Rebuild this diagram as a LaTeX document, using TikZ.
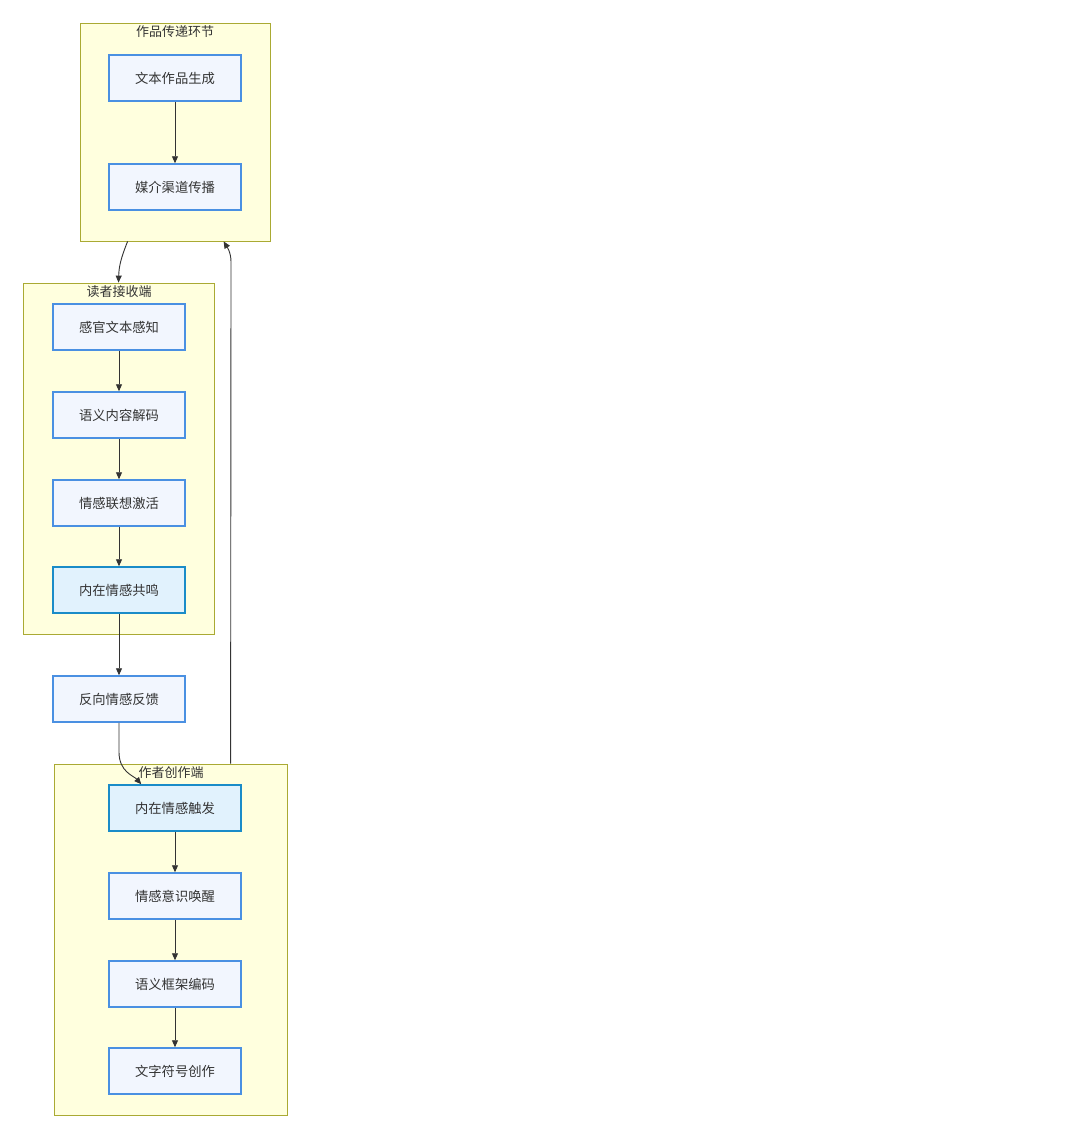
\documentclass[tikz,border=0pt]{standalone}
\usepackage{fontspec}
\setmainfont{Noto Sans CJK SC}
\usetikzlibrary{arrows.meta,calc}
\definecolor{clfill}{HTML}{FFFFDE}
\definecolor{cldraw}{HTML}{AAAA33}
\definecolor{ndfill}{HTML}{F2F6FE}
\definecolor{nddraw}{HTML}{4A90E2}
\definecolor{hifill}{HTML}{E1F2FD}
\definecolor{hidraw}{HTML}{1A8CC8}
\definecolor{txt}{HTML}{333333}
\definecolor{edge}{HTML}{333333}
\tikzset{
  cluster/.style={draw=cldraw,fill=clfill,line width=0.8pt,inner sep=0pt},
  cltitle/.style={text=txt,font=\fontsize{13}{15}\selectfont,inner sep=0pt},
  proc/.style={draw=nddraw,fill=ndfill,line width=1.5pt,minimum width=132pt,minimum height=46pt,inner sep=0pt,text=txt,font=\fontsize{13.3}{15}\selectfont},
  hiproc/.style={proc,draw=hidraw,fill=hifill},
  arr/.style={draw=edge,line width=0.9pt,-{Triangle[length=7pt,width=6pt]}}
}
\begin{document}
\begin{tikzpicture}[x=1pt,y=-1pt]
\useasboundingbox[fill=white] (0,0) rectangle (1080,1143);
% clusters
\node[cluster,minimum width=190pt,minimum height=218pt] (c1) at (175,132) {};
\node[cltitle] (t1) at (175,32) {作品传递环节};
\node[cluster,minimum width=191pt,minimum height=351pt] (c2) at (118.5,458.5) {};
\node[cltitle] (t2) at (119,292) {读者接收端};
\node[cluster,minimum width=233pt,minimum height=351pt] (c3) at (170.5,939.5) {};
\node[cltitle] (t3) at (171,773) {作者创作端};
% nodes
\node[proc] (a1) at (175,78) {文本作品生成};
\node[proc] (a2) at (175,187) {媒介渠道传播};
\node[proc] (b1) at (119,327) {感官文本感知};
\node[proc] (b2) at (119,415) {语义内容解码};
\node[proc] (b3) at (119,503) {情感联想激活};
\node[hiproc] (b4) at (119,590) {内在情感共鸣};
\node[proc] (f) at (119,699) {反向情感反馈};
\node[hiproc] (d1) at (175,808) {内在情感触发};
\node[proc] (d2) at (175,896) {情感意识唤醒};
\node[proc] (d3) at (175,984) {语义框架编码};
\node[proc] (d4) at (175,1071) {文字符号创作};
% coordinates
\coordinate (c1out) at ($(c1.south west)+(48,0)$);
\coordinate (c1in) at ($(c1.south west)+(144,0)$);
\coordinate (c3out) at ($(c3.north west)+(177,0)$);
\coordinate (d1in) at ($(d1.north west)+(33,0)$);
% edges
\draw[arr] (a1) -- (a2);
\draw[arr] (c1out) .. controls (121,258) and (119,266) .. (c2.north);
\draw[arr] (b1) -- (b2);
\draw[arr] (b2) -- (b3);
\draw[arr] (b3) -- (b4);
\draw[arr] (b4) -- (f);
\draw[arr] (f.south) -- (119,752) .. controls (119,772) and (134,776) .. (d1in);
\draw[arr] (c3out) -- (231,262) .. controls (231,252) and (227,247) .. (c1in);
\draw[arr] (d1) -- (d2);
\draw[arr] (d2) -- (d3);
\draw[arr] (d3) -- (d4);
\end{tikzpicture}
\end{document}
